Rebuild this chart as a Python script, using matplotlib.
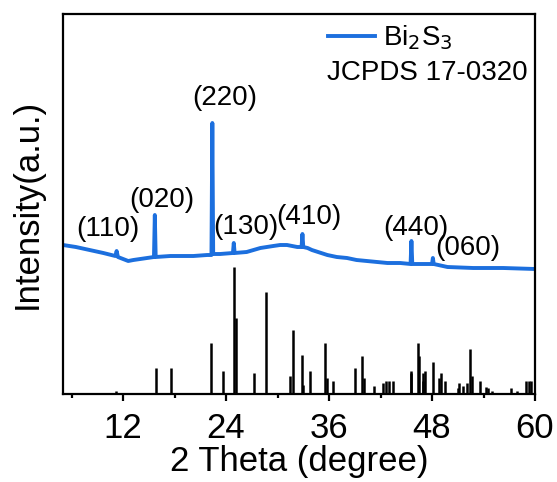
import matplotlib
matplotlib.use("Agg")
import matplotlib.pyplot as plt
from matplotlib.ticker import MultipleLocator

plt.rcParams['font.family'] = ['Liberation Sans', 'DejaVu Sans']

# Measured XRD pattern of the Bi2S3 sample (arbitrary units)
two_theta = [5.0, 6.5, 8.1, 9.7, 11.1, 11.25, 11.4, 12.0, 12.6, 13.2, 14.0,
             15.6, 15.7, 15.8, 17.5, 20.2, 21.8, 22.3, 22.4, 22.5, 23.3,
             24.8, 24.9, 25.0, 26.4, 27.2, 28.0, 29.5, 30.3, 31.1, 32.3,
             32.8, 32.9, 33.0, 33.5, 34.0, 35.8, 36.9, 38.1, 39.2, 40.4,
             41.6, 42.8, 44.3, 45.5, 45.6, 45.7, 47.0, 48.0, 48.1, 48.2,
             49.8, 52.8, 56.3, 60.0]
intensity = [149, 147, 144, 141, 138, 143, 137, 135, 133, 134, 135,
             137, 179, 137, 138, 138, 139, 139, 271, 140, 140,
             141, 151, 141, 142, 144, 146, 148, 149, 149, 147,
             147, 160, 147, 146, 144, 139, 137, 136, 134, 133,
             132, 131, 131, 130, 153, 130, 130, 130, 136, 130,
             127, 126, 126, 125]

# Reference card JCPDS 17-0320 (stick pattern)
ref_theta = [11.2, 15.8, 17.6, 22.3, 23.7, 24.9, 25.2, 27.3, 28.6, 31.5,
             31.8, 32.8, 33.0, 33.8, 35.5, 35.8, 36.5, 39.0, 39.8, 40.1,
             41.2, 42.3, 42.6, 43.0, 43.5, 45.5, 45.6, 46.4, 46.5, 46.9,
             47.0, 47.2, 48.1, 48.8, 49.1, 49.5, 51.0, 51.2, 51.6, 52.1,
             52.4, 52.7, 53.6, 54.3, 54.5, 55.0, 57.2, 57.9, 59.0, 59.3,
             59.5]
ref_int = [3, 26, 26, 51, 23, 127, 76, 21, 102, 18,
           64, 39, 9, 23, 51, 16, 13, 26, 38, 16,
           8, 11, 13, 13, 13, 23, 21, 51, 38, 21,
           13, 23, 32, 16, 21, 13, 6, 11, 8, 11,
           45, 18, 13, 7, 6, 3, 6, 3, 13, 13,
           13]

# Miller-index annotations
hkl_labels = ['(110)', '(020)', '(220)', '(130)', '(410)', '(440)', '(060)']
hkl_x = [10.25, 16.54, 23.88, 26.33, 33.67, 46.15, 52.2]
hkl_y = [165, 194, 296, 167, 177, 166, 146]

blue = '#1c6fde'

fig = plt.figure(figsize=(5.57, 4.82), dpi=100)
ax = fig.add_axes([63/557, 1-394/482, 472/557, 380/482])

line, = ax.plot(two_theta, intensity, color=blue, lw=2.8, solid_joinstyle='round')
ax.vlines(ref_theta, 0, ref_int, color='black', lw=1.8)

for lab, x, y in zip(hkl_labels, hkl_x, hkl_y):
    ax.text(x, y, lab, ha='center', va='center', fontsize=20)

ax.set_xlim(5, 60)
ax.set_ylim(0, 380)
ax.xaxis.set_major_locator(MultipleLocator(12))
ax.xaxis.set_minor_locator(MultipleLocator(6))
ax.set_yticks([])
ax.tick_params(axis='x', which='major', direction='out', length=5, width=1.6,
               labelsize=25, pad=8)
ax.tick_params(axis='x', which='minor', direction='out', length=3, width=1.6)
for s in ax.spines.values():
    s.set_linewidth(1.6)

ax.set_xlabel('2 Theta (degree)', fontsize=25, labelpad=0)
ax.set_ylabel('Intensity(a.u.)', fontsize=25, labelpad=14)

leg = ax.legend([line], ['Bi$_2$S$_3$'], loc='upper left',
                bbox_to_anchor=(0.561, 0.975), frameon=False, fontsize=20,
                handlelength=1.7, handletextpad=0.3, borderpad=0,
                borderaxespad=0)
ax.text(0.559, 0.826, 'JCPDS 17-0320', transform=ax.transAxes,
        ha='left', va='baseline', fontsize=20)

fig.savefig('out.png', dpi=100)
